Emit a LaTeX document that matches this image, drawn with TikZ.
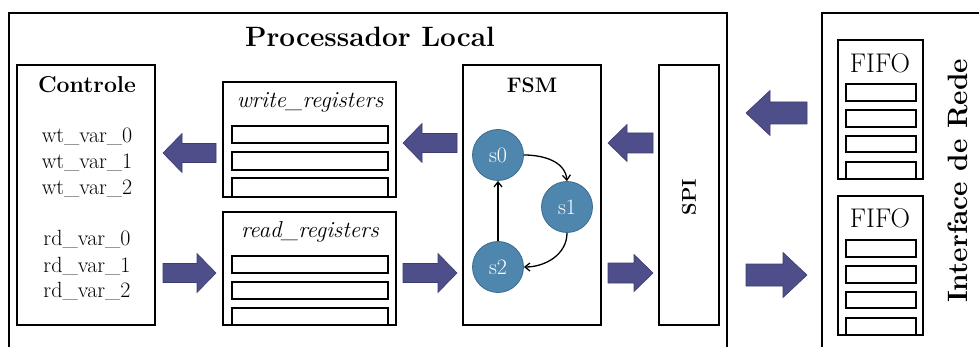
\documentclass[tikz,border=0pt]{standalone}
\usetikzlibrary{arrows.meta}
\definecolor{arrowfill}{RGB}{78,79,138}
\definecolor{arrowline}{RGB}{60,61,108}
\definecolor{statefill}{RGB}{79,134,173}
\definecolor{stateline}{RGB}{58,108,146}
\tikzset{
  box/.style={draw, line width=1.6pt},
  slot/.style={draw, line width=1.5pt},
  flowarrow/.style={fill=arrowfill, draw=arrowline, line width=0.6pt, line join=miter},
  state/.style={circle, fill=statefill, draw=stateline, line width=0.8pt,
    minimum size=51pt, inner sep=0pt, text=white, font=\fontsize{22}{22}\selectfont},
  trans/.style={line width=1.3pt, -{Straight Barb[length=5pt,width=8pt,line width=1.3pt]}},
  vartext/.style={font=\fontsize{22}{22}\selectfont},
  regtitle/.style={font=\fontsize{23}{23}\selectfont\itshape},
  fifotitle/.style={font=\fontsize{27}{27}\selectfont},
}
% block arrow: tail x, head base x, tip x, y, half shaft width, half head width
\newcommand{\flowarrow}[6]{%
  \filldraw[flowarrow] (#1,{#4-#5}) -- (#2,{#4-#5}) -- (#2,{#4-#6}) -- (#3,#4)
    -- (#2,{#4+#6}) -- (#2,{#4+#5}) -- (#1,{#4+#5}) -- cycle;}
\begin{document}
\begin{tikzpicture}[x=1pt, y=-1pt]
\useasboundingbox (0,0) rectangle (979,347);
\begin{scope}
\clip (0,0) rectangle (979,347);
% outer blocks
\draw[box] (9,13) rectangle (727,370);
\draw[box] (822,13) rectangle (1000,370);
\end{scope}
\node[font=\fontsize{28}{28}\selectfont\bfseries] (title) at (370,37) {Processador Local};

% Controle
\draw[box] (17,65) rectangle (155,325);
\node[font=\fontsize{23}{23}\selectfont\bfseries] (ctl) at (87,85) {Controle};
\node[vartext] (w0) at (87,137) {wt\_var\_0};
\node[vartext] (w1) at (87,163) {wt\_var\_1};
\node[vartext] (w2) at (87,189) {wt\_var\_2};
\node[vartext] (r0) at (87,239) {rd\_var\_0};
\node[vartext] (r1) at (87,266) {rd\_var\_1};
\node[vartext] (r2) at (87,291) {rd\_var\_2};

% write_registers
\draw[box] (223,82) rectangle (396,197);
\node[regtitle] (wreg) at (310,102) {write\_registers};
\draw[slot] (232,126) rectangle (388,143);
\draw[slot] (232,152) rectangle (388,170);
\draw[slot] (232,178) rectangle (388,197);

% read_registers
\draw[box] (223,212) rectangle (396,325);
\node[regtitle] (rreg) at (310,232) {read\_registers};
\draw[slot] (232,256) rectangle (388,273);
\draw[slot] (232,282) rectangle (388,299);
\draw[slot] (232,308) rectangle (388,325);

% FSM
\draw[box] (463,65) rectangle (601,325);
\node[font=\fontsize{21}{21}\selectfont\bfseries] (fsm) at (532,85) {FSM};
\node[state] (s0) at (498,155) {s0};
\node[state] (s1) at (567,207) {s1};
\node[state] (s2) at (498,267) {s2};
\draw[trans] (s0.east) to[out=0, in=95] (s1.north);
\draw[trans] (s1.south) to[out=-90, in=0] (s2.east);
\draw[trans] (s2.north) -- (s0.south);

% SPI
\draw[box] (659,65) rectangle (719,325);
\node[font=\fontsize{20}{20}\selectfont\bfseries, rotate=90] (spi) at (689,197) {SPI};

% FIFOs
\draw[box] (838,40) rectangle (923,179);
\node[fifotitle] (fifoa) at (880,63) {FIFO};
\draw[slot] (846,84) rectangle (916,101);
\draw[slot] (846,110) rectangle (916,127);
\draw[slot] (846,136) rectangle (916,152);
\draw[slot] (846,162) rectangle (916,179);

\draw[box] (838,196) rectangle (923,335);
\node[fifotitle] (fifob) at (880,218) {FIFO};
\draw[slot] (846,240) rectangle (916,257);
\draw[slot] (846,266) rectangle (916,283);
\draw[slot] (846,292) rectangle (916,308);
\draw[slot] (846,318) rectangle (916,335);

\node[font=\fontsize{28}{28}\selectfont\bfseries, rotate=90] (rede) at (958,181) {Interface de Rede};

% data flow arrows
\flowarrow{216}{182}{163}{153}{9.5}{19.5}
\flowarrow{163}{197}{216}{273}{9.5}{19.5}
\flowarrow{457}{422}{403}{143}{9.5}{19.5}
\flowarrow{403}{438}{457}{273}{9.5}{19.5}
\flowarrow{653}{627}{608}{143}{10}{18.5}
\flowarrow{608}{634}{653}{273}{10}{18.5}
\flowarrow{807}{770}{746}{113}{11}{22.5}
\flowarrow{746}{783}{807}{275}{11}{22.5}
\end{tikzpicture}
\end{document}
